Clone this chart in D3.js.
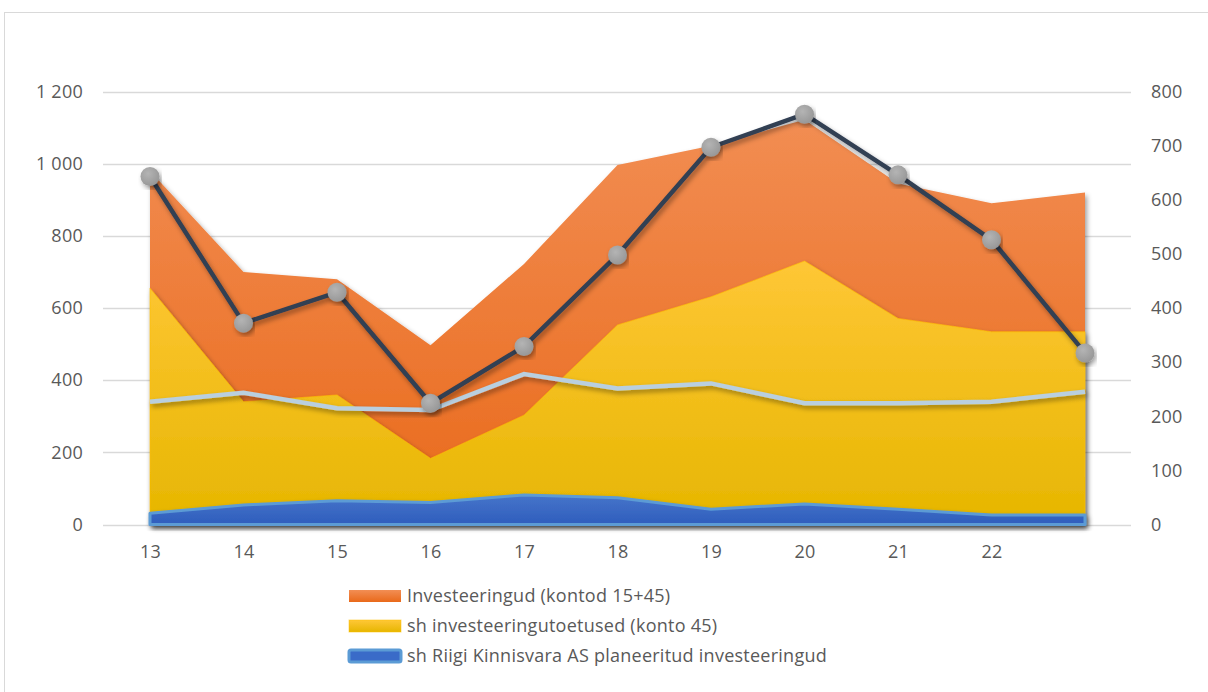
<!DOCTYPE html>
<html>
<head>
<meta charset="utf-8">
<script src="https://cdn.jsdelivr.net/npm/d3@7"></script>
<style>
  body { margin: 0; background: #fff; }
  text { font-family: "Open Sans", "Noto Sans", sans-serif; fill: #595959; letter-spacing: 0.25px; }
</style>
</head>
<body>
<svg id="chart" width="1208" height="692"></svg>
<script>
// categories (last one has no label in the original)
var years = ["13", "14", "15", "16", "17", "18", "19", "20", "21", "22", ""];

// left axis series (areas)
var investeeringud = [980, 700, 680, 497, 722, 996, 1050, 1122, 945, 890, 920];
var toetused       = [655, 340, 359, 183, 303, 553, 631, 730, 571, 534, 534];
var rkas           = [31, 54, 66, 61, 82, 74, 42, 57, 42, 26, 26];
// light line (left axis)
var lightLine      = [340, 365, 322, 317, 417, 377, 391, 336, 336, 340, 368];
// dark line with markers (right axis)
var darkLine       = [643, 372, 429, 224, 329, 498, 697, 758, 646, 526, 317];

var leftTicks = [0, 200, 400, 600, 800, 1000, 1200];
var rightTicks = [0, 100, 200, 300, 400, 500, 600, 700, 800];
var legendNames = ["Investeeringud (kontod 15+45)", "sh investeeringutoetused (konto 45)", "sh Riigi Kinnisvara AS planeeritud investeeringud"];

var svg = d3.select("#chart");
var fs = 18;

// outer frame
svg.append("rect").attr("x", 4.5).attr("y", 12.5).attr("width", 1220).attr("height", 700)
  .attr("fill", "none").attr("stroke", "#d9d9d9").attr("stroke-width", 1);

var x = d3.scalePoint().domain(d3.range(years.length)).range([150, 1085]);
var yL = d3.scaleLinear().domain([0, 1200]).range([524.5, 91.5]);
var yR = d3.scaleLinear().domain([0, 800]).range([524.5, 91.5]);

var defs = svg.append("defs");
var f = defs.append("filter").attr("id", "shadow").attr("x", "-10%").attr("y", "-10%").attr("width", "120%").attr("height", "130%");
f.append("feDropShadow").attr("dx", 2).attr("dy", 3).attr("stdDeviation", 2.5).attr("flood-color", "#000").attr("flood-opacity", 0.38);

function grad(id, y1, y2, c1, c2) {
  var g = defs.append("linearGradient").attr("id", id).attr("gradientUnits", "userSpaceOnUse")
    .attr("x1", 0).attr("x2", 0).attr("y1", y1).attr("y2", y2);
  g.append("stop").attr("offset", "0%").attr("stop-color", c1);
  g.append("stop").attr("offset", "100%").attr("stop-color", c2);
}
grad("gOrange", 110, 524, "#f28e54", "#e9691a");
grad("gYellow", 255, 524, "#ffc737", "#e6b600");
grad("gBlue", 490, 524, "#4a78cc", "#2f5ebd");
grad("gOrangeL", 590, 602, "#f28e54", "#e9691a");
grad("gYellowL", 620, 632, "#ffc737", "#e6b600");
var rg = defs.append("radialGradient").attr("id", "gMarker").attr("cx", "40%").attr("cy", "35%").attr("r", "65%");
rg.append("stop").attr("offset", "0%").attr("stop-color", "#b4b4b4");
rg.append("stop").attr("offset", "100%").attr("stop-color", "#989898");

// gridlines
svg.append("g").selectAll("line").data(leftTicks).enter().append("line")
  .attr("x1", 103).attr("x2", 1131)
  .attr("y1", d => Math.round(yL(d)) + 0.5).attr("y2", d => Math.round(yL(d)) + 0.5)
  .attr("stroke", "#d9d9d9").attr("stroke-width", 1.5);

// axes
var leftAxis = d3.axisLeft(yL).tickValues(leftTicks).tickSize(0).tickPadding(0)
  .tickFormat(d => d3.format(",")(d).replace(",", " "));
var gl = svg.append("g").attr("transform", "translate(83,0)").call(leftAxis);
gl.select(".domain").remove();
gl.selectAll("text").attr("font-size", fs).attr("fill", "#595959");

var rightAxis = d3.axisRight(yR).tickValues(rightTicks).tickSize(0).tickPadding(0);
var gr = svg.append("g").attr("transform", "translate(1151,0)").call(rightAxis);
gr.select(".domain").remove();
gr.selectAll("text").attr("font-size", fs).attr("fill", "#595959");

var bottomAxis = d3.axisBottom(x).tickSize(0).tickPadding(0).tickFormat(i => years[i]);
var gb = svg.append("g").attr("transform", "translate(0,545)").call(bottomAxis);
gb.select(".domain").remove();
gb.selectAll("text").attr("font-size", fs).attr("fill", "#595959").attr("dy", "0.72em");

// areas
function area(vals) {
  return d3.area().x((d, i) => x(i)).y0(yL(0)).y1(d => yL(d))(vals);
}
svg.append("path").attr("d", area(investeeringud)).attr("fill", "url(#gOrange)").attr("filter", "url(#shadow)");
svg.append("path").attr("d", area(toetused)).attr("fill", "url(#gYellow)").attr("filter", "url(#shadow)")
  .attr("stroke", "#ffc000").attr("stroke-width", 1).attr("stroke-opacity", 0.6);
svg.append("path").attr("d", area(rkas)).attr("fill", "url(#gBlue)").attr("filter", "url(#shadow)")
  .attr("stroke", "#5b9bd5").attr("stroke-width", 3).attr("stroke-linejoin", "round");

// light line
var lineL = d3.line().x((d, i) => x(i)).y(d => yL(d));
svg.append("path").attr("d", lineL(lightLine)).attr("fill", "none")
  .attr("stroke", "#b9cfdf").attr("stroke-width", 4.5).attr("filter", "url(#shadow)");

// dark line + markers
var lineR = d3.line().x((d, i) => x(i)).y(d => yR(d));
svg.append("path").attr("d", lineR(darkLine)).attr("fill", "none")
  .attr("stroke", "#323f53").attr("stroke-width", 4.5).attr("stroke-linejoin", "round").attr("filter", "url(#shadow)");
svg.append("g").selectAll("circle").data(darkLine).enter().append("circle")
  .attr("cx", (d, i) => x(i)).attr("cy", d => yR(d)).attr("r", 9.5)
  .attr("fill", "url(#gMarker)").attr("filter", "url(#shadow)");

// legend
var lg = svg.append("g");
var rowY = [596, 626, 656];
lg.append("rect").attr("x", 349).attr("y", rowY[0] - 6).attr("width", 52).attr("height", 12).attr("fill", "url(#gOrangeL)");
lg.append("rect").attr("x", 349).attr("y", rowY[1] - 6).attr("width", 52).attr("height", 12).attr("fill", "url(#gYellowL)")
  .attr("stroke", "#ffc000").attr("stroke-width", 1).attr("stroke-opacity", 0.5);
lg.append("rect").attr("x", 349).attr("y", rowY[2] - 6).attr("width", 52).attr("height", 12).attr("rx", 2).attr("fill", "#3a6bc8")
  .attr("stroke", "#5b9bd5").attr("stroke-width", 3);
lg.selectAll("text").data(legendNames).enter().append("text")
  .attr("x", 407).attr("y", (d, i) => rowY[i]).attr("dy", "0.35em")
  .attr("font-size", fs).text(d => d);
</script>
</body>
</html>
